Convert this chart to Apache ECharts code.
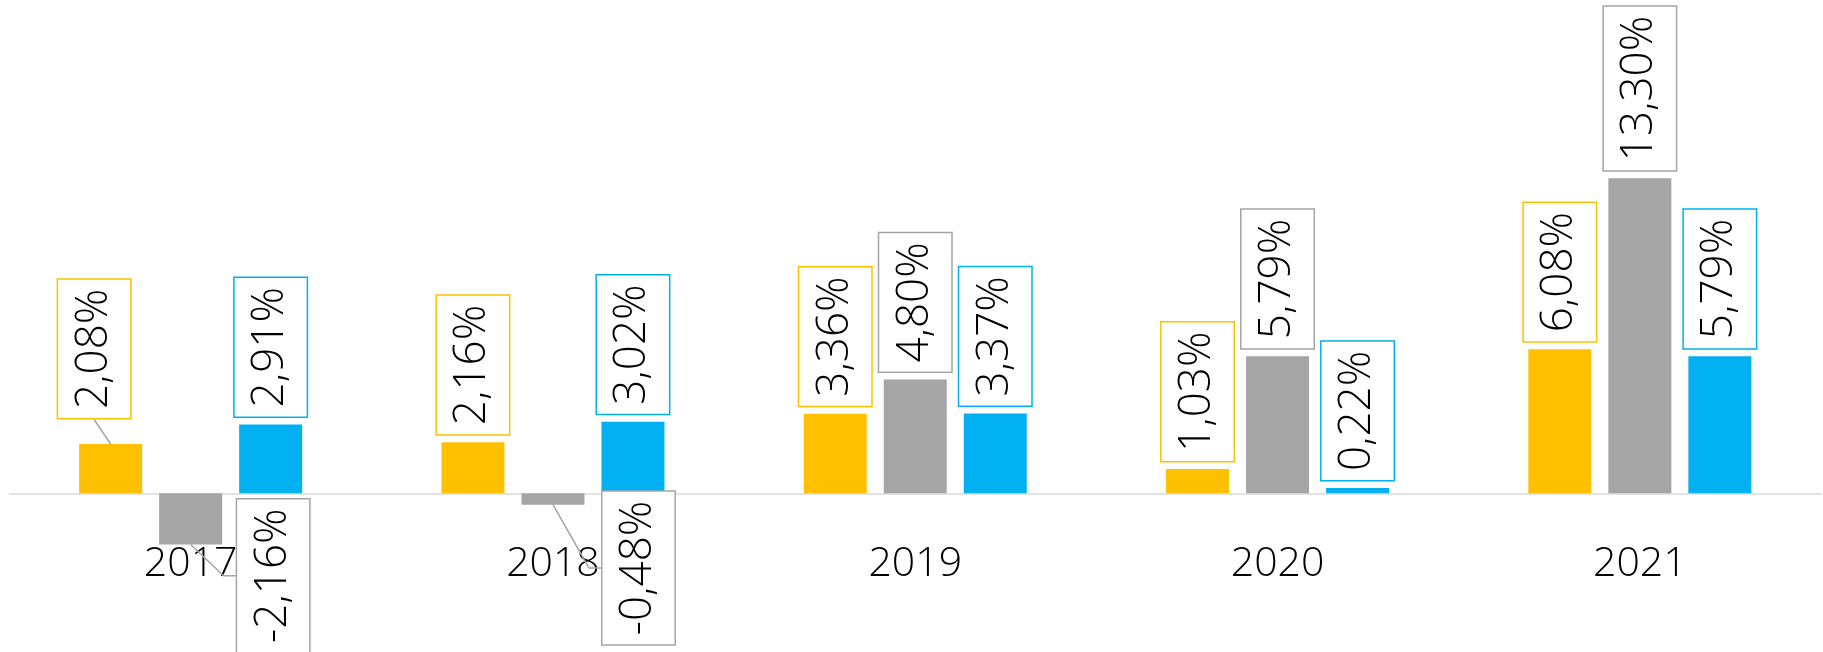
<!DOCTYPE html>
<html>
<head>
<meta charset="utf-8">
<script src="https://cdn.jsdelivr.net/npm/echarts@6/dist/echarts.min.js"></script>
<style>
  html, body { margin: 0; padding: 0; background: #fff; }
  #main { width: 1823px; height: 652px; }
</style>
</head>
<body>
<div id="main"></div>
<script>
// dados do gráfico
var anos = ['2017', '2018', '2019', '2020', '2021'];
var serieA = [2.08, 2.16, 3.36, 1.03, 6.08];
var serieB = [-2.16, -0.48, 4.80, 5.79, 13.30];
var serieC = [2.91, 3.02, 3.37, 0.22, 5.79];

var cores = ['#FFC000', '#A5A5A5', '#00B0F0'];
var fonte = "'Open Sans', sans-serif";

// rótulos deslocados à mão (série-índice): [dx, dy] na tela
var deslocamentos = {
    '0-0': [-16.5, -18],
    '1-0': [82.5, -53],
    '1-1': [85.5, -21]
};
var guias = {};

function fmt(p) {
    return p.value.toFixed(2).replace('.', ',') + '%';
}

// linha-guia: do meio da ponta da barra até a caixa do rótulo
function guia(p, d) {
    var r = p.rect, l = p.labelRect;
    var cx = r.x + r.width / 2;
    var bx = l.x + d[0], by = l.y + d[1];
    if (bx > r.x + r.width) {
        // caixa à direita: diagonal e depois horizontal até a borda esquerda
        var my = by + l.height / 2;
        return [[cx, r.y + r.height], [bx - 12, my], [bx, my]];
    }
    return [[cx, r.y], [bx + l.width / 2, by + l.height]];
}

function serie(nome, valores, i) {
    return {
        name: nome,
        type: 'bar',
        clip: false,
        barWidth: 63,
        barGap: '27%',
        itemStyle: { color: cores[i] },
        data: valores.map(function (v) {
            return v < 0 ? { value: v, label: { align: 'right' } } : v;
        }),
        label: {
            show: true,
            position: 'outside',
            rotate: 90,
            align: 'left',
            verticalAlign: 'middle',
            distance: 8,
            formatter: fmt,
            fontFamily: fonte,
            fontWeight: 300,
            fontSize: 44,
            lineHeight: 48,
            color: '#000',
            backgroundColor: '#fff',
            borderColor: cores[i],
            borderWidth: 1.5,
            padding: [12, 9]
        },
        labelLayout: function (p) {
            var k = p.seriesIndex + '-' + p.dataIndex;
            var d = deslocamentos[k];
            if (!d) return {};
            guias[k] = guia(p, d);
            // o rótulo está girado 90°, então dx/dy valem no eixo do texto
            return { dx: -d[1], dy: d[0] };
        }
    };
}

var myChart = echarts.init(document.getElementById('main'));
myChart.setOption({
    animation: false,
    grid: {
        left: 9.5, right: 2, top: 19.5, height: 521.2,
        containLabel: false, outerBoundsMode: 'none'
    },
    xAxis: {
        type: 'category',
        data: anos,
        axisLine: { lineStyle: { color: '#D9D9D9', width: 1.5 } },
        axisTick: { show: false },
        axisLabel: {
            margin: 3,
            fontFamily: fonte,
            fontWeight: 300,
            fontSize: 41,
            color: '#000'
        },
        z: 1
    },
    yAxis: {
        type: 'value',
        min: -2,
        max: 20,
        show: false,
        splitLine: { show: false }
    },
    series: [
        serie('A', serieA, 0),
        serie('B', serieB, 1),
        serie('C', serieC, 2)
    ]
});

// desenha as linhas-guia dos rótulos deslocados
myChart.setOption({
    graphic: Object.keys(guias).map(function (k) {
        return {
            type: 'polyline',
            z: 5,
            silent: true,
            shape: { points: guias[k] },
            style: { stroke: '#A5A5A5', lineWidth: 1.5, fill: null }
        };
    })
});
</script>
</body>
</html>
